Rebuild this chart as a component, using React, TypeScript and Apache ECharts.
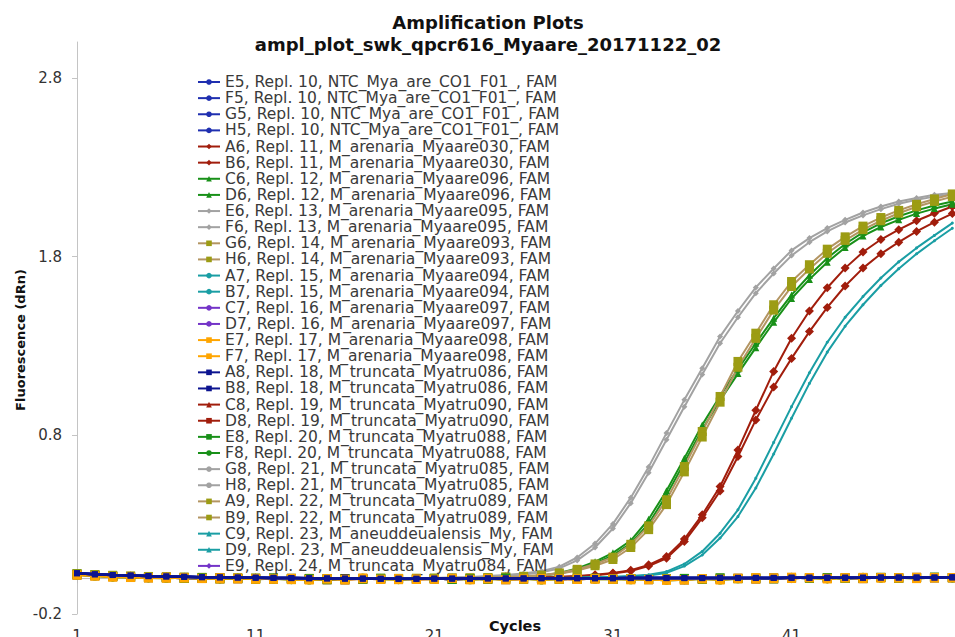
import React, { useEffect, useRef } from "react";
import * as echarts from "echarts";

const cycles = [1, 2, 3, 4, 5, 6, 7, 8, 9, 10, 11, 12, 13, 14, 15, 16, 17, 18, 19, 20, 21, 22, 23, 24, 25, 26, 27, 28, 29, 30, 31, 32, 33, 34, 35, 36, 37, 38, 39, 40, 41, 42, 43, 44, 45, 46, 47, 48, 49, 50];

const yTicks = [-0.2, 0.8, 1.8, 2.8];

const flatA = [0.028, 0.022, 0.018, 0.015, 0.012, 0.010, 0.008, 0.006, 0.005, 0.004, 0.003, 0.002, 0.001, 0.000, -0.001, -0.002, -0.002, -0.003, -0.003, -0.003, -0.002, -0.002, -0.002, -0.001, -0.001, -0.001, 0.000, 0.000, 0.000, 0.000, 0.000, 0.001, 0.001, 0.001, 0.001, 0.001, 0.002, 0.002, 0.002, 0.002, 0.003, 0.003, 0.003, 0.003, 0.003, 0.004, 0.004, 0.004, 0.004, 0.005];
const flatB = [0.020, 0.012, 0.006, 0.004, 0.002, 0.000, 0.003, -0.002, -0.004, 0.001, -0.006, -0.003, -0.008, -0.010, -0.004, -0.006, 0.002, -0.005, -0.008, -0.003, -0.006, -0.002, -0.009, -0.004, -0.007, -0.003, -0.010, -0.005, -0.002, -0.006, -0.004, -0.009, -0.006, -0.012, -0.008, -0.004, -0.010, -0.003, 0.004, -0.002, 0.006, 0.002, -0.004, 0.001, 0.005, 0.000, 0.003, -0.002, 0.004, 0.002];
const flatC = [0.022, 0.016, 0.010, 0.006, 0.004, 0.003, 0.000, 0.002, -0.003, -0.001, -0.004, 0.001, -0.006, -0.003, -0.008, -0.002, -0.005, 0.000, -0.006, -0.004, -0.001, -0.007, -0.003, -0.005, 0.001, -0.004, -0.002, -0.006, -0.003, 0.000, -0.005, -0.002, -0.007, -0.003, -0.001, -0.005, 0.002, -0.002, 0.001, -0.003, 0.003, 0.000, 0.004, -0.001, 0.002, 0.005, 0.001, 0.003, 0.006, 0.003];
const flatD = [0.018, 0.014, 0.009, 0.007, 0.003, 0.005, 0.001, -0.001, 0.002, -0.003, -0.002, -0.005, -0.001, -0.007, -0.004, -0.009, -0.003, -0.006, -0.002, -0.007, -0.004, -0.001, -0.006, -0.002, -0.008, -0.005, -0.001, -0.004, -0.007, -0.002, -0.006, -0.003, -0.008, -0.004, -0.009, -0.002, -0.005, 0.000, -0.004, 0.002, -0.001, 0.004, 0.000, 0.003, -0.002, 0.004, 0.001, 0.005, 0.002, 0.004];

const redA6 = [0.024, 0.019, 0.015, 0.012, 0.009, 0.007, 0.006, 0.004, 0.003, 0.002, 0.001, 0.000, -0.001, -0.001, -0.002, -0.002, -0.003, -0.002, -0.002, -0.001, -0.001, 0.000, 0.000, 0.001, 0.002, 0.003, 0.005, 0.008, 0.012, 0.020, 0.030, 0.045, 0.075, 0.121, 0.219, 0.355, 0.513, 0.718, 0.940, 1.157, 1.343, 1.495, 1.625, 1.735, 1.825, 1.895, 1.950, 2.000, 2.042, 2.080];
const redB6 = [0.023, 0.018, 0.014, 0.011, 0.009, 0.007, 0.005, 0.004, 0.003, 0.002, 0.001, 0.000, -0.001, -0.002, -0.002, -0.003, -0.003, -0.002, -0.002, -0.001, -0.001, 0.000, 0.000, 0.001, 0.001, 0.002, 0.004, 0.006, 0.010, 0.017, 0.026, 0.040, 0.068, 0.112, 0.205, 0.338, 0.488, 0.681, 0.886, 1.070, 1.230, 1.380, 1.515, 1.635, 1.735, 1.815, 1.880, 1.940, 1.992, 2.040];
const greenC6 = [0.025, 0.020, 0.015, 0.012, 0.010, 0.008, 0.006, 0.005, 0.004, 0.003, 0.002, 0.001, 0.000, -0.001, -0.001, -0.002, -0.002, -0.002, -0.001, 0.000, 0.000, 0.001, 0.002, 0.003, 0.005, 0.009, 0.016, 0.030, 0.055, 0.093, 0.142, 0.211, 0.330, 0.490, 0.672, 0.858, 1.020, 1.170, 1.315, 1.455, 1.585, 1.695, 1.791, 1.870, 1.935, 1.985, 2.025, 2.058, 2.085, 2.108];
const greenD6 = [0.024, 0.019, 0.015, 0.011, 0.009, 0.007, 0.006, 0.004, 0.003, 0.002, 0.001, 0.001, 0.000, -0.001, -0.002, -0.002, -0.002, -0.002, -0.001, 0.000, 0.000, 0.001, 0.002, 0.003, 0.004, 0.008, 0.014, 0.026, 0.048, 0.083, 0.128, 0.195, 0.305, 0.465, 0.648, 0.832, 0.995, 1.145, 1.290, 1.432, 1.565, 1.672, 1.768, 1.850, 1.915, 1.965, 2.005, 2.040, 2.068, 2.092];
const grayE6 = [0.025, 0.020, 0.015, 0.012, 0.010, 0.008, 0.006, 0.005, 0.004, 0.003, 0.002, 0.001, 0.000, -0.001, -0.001, -0.002, -0.002, -0.002, -0.001, 0.000, 0.002, 0.004, 0.007, 0.012, 0.018, 0.026, 0.040, 0.065, 0.116, 0.194, 0.304, 0.451, 0.623, 0.812, 0.998, 1.175, 1.352, 1.495, 1.627, 1.733, 1.834, 1.903, 1.959, 2.005, 2.046, 2.080, 2.108, 2.127, 2.145, 2.155];
const grayF6 = [0.024, 0.019, 0.014, 0.011, 0.009, 0.007, 0.006, 0.004, 0.003, 0.002, 0.002, 0.001, 0.000, -0.001, -0.002, -0.002, -0.002, -0.001, -0.001, 0.000, 0.001, 0.003, 0.005, 0.009, 0.014, 0.021, 0.033, 0.055, 0.100, 0.172, 0.278, 0.420, 0.590, 0.775, 0.960, 1.140, 1.315, 1.460, 1.595, 1.705, 1.805, 1.880, 1.940, 1.990, 2.030, 2.065, 2.095, 2.117, 2.135, 2.148];
const oliveG6 = [0.026, 0.021, 0.016, 0.012, 0.010, 0.008, 0.006, 0.005, 0.003, 0.002, 0.001, 0.000, 0.000, -0.001, -0.002, -0.002, -0.003, -0.002, -0.001, -0.001, 0.000, 0.001, 0.002, 0.004, 0.007, 0.011, 0.018, 0.030, 0.050, 0.080, 0.118, 0.190, 0.293, 0.439, 0.625, 0.821, 1.017, 1.213, 1.371, 1.530, 1.660, 1.754, 1.841, 1.910, 1.970, 2.018, 2.058, 2.092, 2.122, 2.150];
const oliveH6 = [0.025, 0.020, 0.016, 0.012, 0.009, 0.007, 0.006, 0.004, 0.003, 0.002, 0.001, 0.000, -0.001, -0.001, -0.002, -0.003, -0.002, -0.002, -0.001, 0.000, 0.000, 0.001, 0.002, 0.003, 0.006, 0.009, 0.015, 0.025, 0.043, 0.070, 0.105, 0.172, 0.272, 0.412, 0.595, 0.790, 0.985, 1.180, 1.342, 1.500, 1.632, 1.730, 1.818, 1.890, 1.950, 2.000, 2.042, 2.078, 2.108, 2.135];
const tealA7 = [0.025, 0.020, 0.015, 0.012, 0.010, 0.008, 0.006, 0.005, 0.004, 0.003, 0.002, 0.001, 0.000, -0.001, -0.001, -0.002, -0.002, -0.002, -0.002, -0.001, -0.001, 0.000, 0.000, 0.001, 0.001, 0.002, 0.002, 0.003, 0.004, 0.006, 0.008, 0.012, 0.020, 0.037, 0.080, 0.150, 0.252, 0.383, 0.560, 0.760, 0.960, 1.150, 1.320, 1.460, 1.576, 1.680, 1.770, 1.848, 1.918, 1.987];
const tealB7 = [0.024, 0.019, 0.015, 0.011, 0.009, 0.007, 0.006, 0.004, 0.003, 0.002, 0.001, 0.000, -0.001, -0.001, -0.002, -0.002, -0.003, -0.002, -0.002, -0.001, -0.001, 0.000, 0.000, 0.000, 0.001, 0.001, 0.002, 0.002, 0.003, 0.005, 0.006, 0.010, 0.016, 0.030, 0.068, 0.130, 0.225, 0.345, 0.505, 0.695, 0.895, 1.090, 1.265, 1.410, 1.530, 1.638, 1.732, 1.815, 1.888, 1.958];

const wellNames = [
  "E5, Repl. 10, NTC_Mya_are_CO1_F01_, FAM",
  "F5, Repl. 10, NTC_Mya_are_CO1_F01_, FAM",
  "G5, Repl. 10, NTC_Mya_are_CO1_F01_, FAM",
  "H5, Repl. 10, NTC_Mya_are_CO1_F01_, FAM",
  "A6, Repl. 11, M_arenaria_Myaare030, FAM",
  "B6, Repl. 11, M_arenaria_Myaare030, FAM",
  "C6, Repl. 12, M_arenaria_Myaare096, FAM",
  "D6, Repl. 12, M_arenaria_Myaare096, FAM",
  "E6, Repl. 13, M_arenaria_Myaare095, FAM",
  "F6, Repl. 13, M_arenaria_Myaare095, FAM",
  "G6, Repl. 14, M_arenaria_Myaare093, FAM",
  "H6, Repl. 14, M_arenaria_Myaare093, FAM",
  "A7, Repl. 15, M_arenaria_Myaare094, FAM",
  "B7, Repl. 15, M_arenaria_Myaare094, FAM",
  "C7, Repl. 16, M_arenaria_Myaare097, FAM",
  "D7, Repl. 16, M_arenaria_Myaare097, FAM",
  "E7, Repl. 17, M_arenaria_Myaare098, FAM",
  "F7, Repl. 17, M_arenaria_Myaare098, FAM",
  "A8, Repl. 18, M_truncata_Myatru086, FAM",
  "B8, Repl. 18, M_truncata_Myatru086, FAM",
  "C8, Repl. 19, M_truncata_Myatru090, FAM",
  "D8, Repl. 19, M_truncata_Myatru090, FAM",
  "E8, Repl. 20, M_truncata_Myatru088, FAM",
  "F8, Repl. 20, M_truncata_Myatru088, FAM",
  "G8, Repl. 21, M_truncata_Myatru085, FAM",
  "H8, Repl. 21, M_truncata_Myatru085, FAM",
  "A9, Repl. 22, M_truncata_Myatru089, FAM",
  "B9, Repl. 22, M_truncata_Myatru089, FAM",
  "C9, Repl. 23, M_aneuddeualensis_My, FAM",
  "D9, Repl. 23, M_aneuddeualensis_My, FAM",
  "E9, Repl. 24, M_truncata_Myatru084, FAM",
];

const wellValues = [
  flatA, flatA, flatA, flatA,
  redA6, redB6, greenC6, greenD6, grayE6, grayF6, oliveG6, oliveH6, tealA7, tealB7,
  flatC, flatC, flatB, flatD,
  flatA, flatA, flatC, flatD, flatC, flatB, flatA, flatA, flatD, flatC, flatA, flatA, flatC,
];

const BLUE = "#1f2fb0";
const NAVY = "#0c1490";
const RED = "#a11d0c";
const GREEN = "#189018";
const GRAY = "#a2a2a2";
const OLIVE = "#9c9c14";
const TAN = "#b39562";
const TEAL = "#1a9ea4";
const PURPLE = "#7434c8";
const ORANGE = "#ffa500";

// [markerColor, lineColor, symbol, symbolSize, z]
const wellStyles: [string, string, string, number, number][] = [
  [BLUE, BLUE, "circle", 5, 6],
  [BLUE, BLUE, "circle", 5, 6],
  [BLUE, BLUE, "circle", 5, 6],
  [BLUE, BLUE, "circle", 5, 6],
  [RED, RED, "diamond", 9, 2],
  [RED, RED, "diamond", 9, 2],
  [GREEN, GREEN, "triangle", 7, 2],
  [GREEN, GREEN, "triangle", 7, 2],
  [GRAY, GRAY, "diamond", 6, 2],
  [GRAY, GRAY, "diamond", 6, 2],
  [OLIVE, TAN, "rect", 9, 2],
  [OLIVE, TAN, "rect", 9, 2],
  [TEAL, TEAL, "circle", 3, 2],
  [TEAL, TEAL, "circle", 3, 2],
  [PURPLE, PURPLE, "circle", 2, 2],
  [PURPLE, PURPLE, "circle", 2, 2],
  [ORANGE, ORANGE, "rect", 9, 4],
  [ORANGE, ORANGE, "rect", 9, 4],
  [NAVY, NAVY, "rect", 6, 6],
  [NAVY, NAVY, "rect", 6, 6],
  [RED, RED, "triangle", 9, 2],
  [RED, RED, "rect", 9, 2],
  [GREEN, GREEN, "rect", 9, 3],
  [GREEN, GREEN, "circle", 9, 3],
  [GRAY, GRAY, "circle", 6, 2],
  [GRAY, GRAY, "circle", 6, 2],
  [OLIVE, TAN, "rect", 9, 2],
  [OLIVE, TAN, "rect", 9, 2],
  [TEAL, TEAL, "triangle", 6, 2],
  [TEAL, TEAL, "triangle", 6, 2],
  [PURPLE, PURPLE, "diamond", 7, 2],
];

const FONT = '"DejaVu Sans", Verdana, sans-serif';

function centeredText(text: string, x: number, y: number, font: string, rotation = 0) {
  return {
    type: "text",
    x,
    y,
    rotation,
    style: {
      text,
      font,
      fill: "#111",
      textAlign: "center",
      align: "center",
      textVerticalAlign: "middle",
      verticalAlign: "middle",
    },
  };
}

export default function App() {
  const ref = useRef<HTMLDivElement>(null);
  useEffect(() => {
    if (!ref.current) return;
    const chart = echarts.init(ref.current, undefined, { renderer: "svg" });
    const series = wellNames.map((name, i) => {
      const [mc, lc, sym, size, z] = wellStyles[i];
      return {
        type: "line",
        name,
        data: cycles.map((c, j) => [c, wellValues[i][j]]),
        symbol: sym,
        symbolSize: size,
        showSymbol: true,
        z,
        lineStyle: { color: lc, width: i < 4 || i === 18 || i === 19 ? 2.5 : 2 },
        itemStyle: { color: mc },
        emphasis: { disabled: true },
      };
    });
    chart.setOption({
      animation: false,
      grid: { left: 77, right: 0, top: 42, height: 572, containLabel: false, outerBoundsMode: "none" },
      xAxis: {
        type: "value",
        min: 1,
        max: 50.15,
        interval: 10,
        axisLine: { lineStyle: { color: "#bdbdbd", width: 1 } },
        axisTick: { show: true, length: 5, lineStyle: { color: "#bdbdbd" } },
        axisLabel: { margin: 14, fontSize: 15, color: "#333", fontFamily: FONT, showMaxLabel: false },
        splitLine: { show: false },
      },
      yAxis: {
        type: "value",
        min: yTicks[0],
        max: 3.0,
        interval: 1,
        axisLine: { show: true, lineStyle: { color: "#c4c4c4", width: 1 } },
        axisTick: { show: true, length: 5, lineStyle: { color: "#c4c4c4" } },
        axisLabel: {
          margin: 15,
          fontSize: 15,
          color: "#333",
          fontFamily: FONT,
          showMaxLabel: false,
          formatter: (v: number) => v.toFixed(1),
        },
        splitLine: { show: false },
      },
      legend: {
        orient: "vertical",
        left: 197,
        top: 74,
        itemWidth: 22,
        itemHeight: 7,
        itemGap: 0.13,
        padding: 0,
        selectedMode: false,
        textStyle: { fontSize: 15.5, fontFamily: FONT, color: "#3a3a3a", lineHeight: 16 },
        data: wellNames,
      },
      graphic: [
        centeredText("Amplification Plots", 488, 22, 'bold 18px "DejaVu Sans", sans-serif'),
        centeredText("ampl_plot_swk_qpcr616_Myaare_20171122_02", 488, 44, 'bold 18px "DejaVu Sans", sans-serif'),
        centeredText("Fluorescence (dRn)", 20, 340, 'bold 13px "DejaVu Sans", sans-serif', Math.PI / 2),
        centeredText("Cycles", 515, 626, 'bold 14.5px "DejaVu Sans", sans-serif'),
      ],
      series,
    });
    return () => chart.dispose();
  }, []);
  return (
    <div
      ref={ref}
      style={{ position: "absolute", left: 0, top: 0, width: 955, height: 637, background: "#fff" }}
    />
  );
}
